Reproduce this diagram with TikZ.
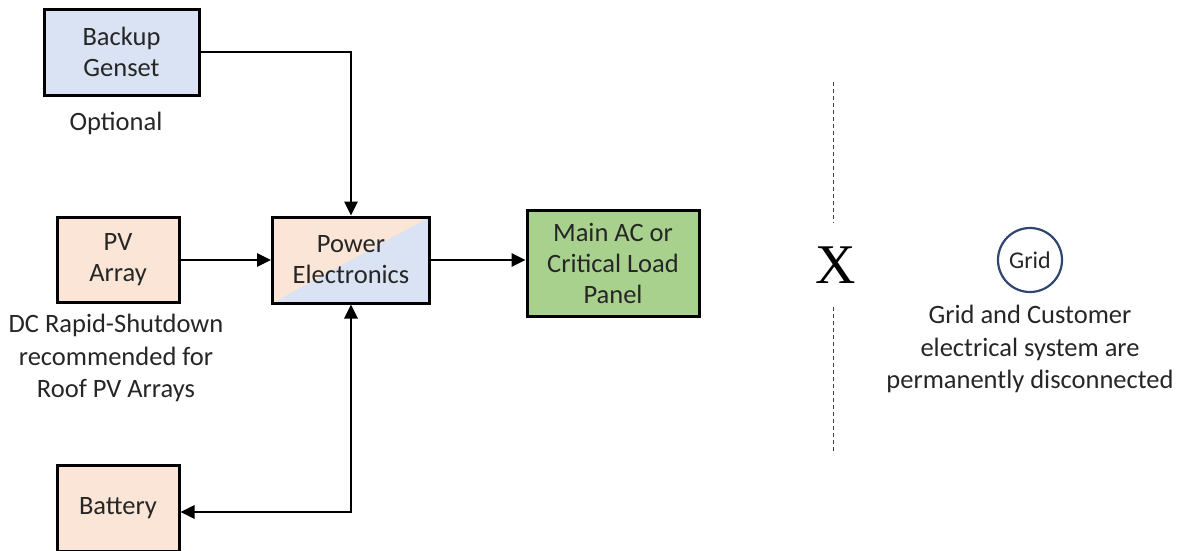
\documentclass[tikz,border=0pt]{standalone}
\usepackage{fontspec}
\setmainfont{Carlito}
\newfontfamily\serifx{Liberation Serif}
\usetikzlibrary{arrows.meta,calc}
\definecolor{lorange}{HTML}{FBE5D6}
\definecolor{lblue}{HTML}{DAE3F3}
\definecolor{lgreen}{HTML}{A9D18E}
\definecolor{navy}{HTML}{2F4670}
\definecolor{txt}{HTML}{262626}
\begin{document}
\begin{tikzpicture}[x=1pt,y=-1pt,
  box/.style={draw=black,line width=3pt,align=center,text=txt,
    font=\fontsize{26.5}{31}\selectfont,inner sep=0pt},
  lbl/.style={align=center,text=txt,font=\fontsize{26.5}{32.5}\selectfont,inner sep=0pt},
  conn/.style={line width=2.8pt,-{Triangle[length=14pt,width=13pt]}},
  dconn/.style={line width=2.8pt,{Triangle[length=14pt,width=13pt]}-{Triangle[length=14pt,width=13pt]}},
  sep/.style={draw=black!75,line width=1pt,dash pattern=on 4pt off 3pt}]
\useasboundingbox (0,0) rectangle (1179,550);
\node[box,fill=lblue,minimum width=155pt,minimum height=86pt] (gen) at (121.5,52) {Backup\\Genset};
\node[lbl] (opt) at (116,123) {Optional};
\node[box,fill=lorange,minimum width=122pt,minimum height=85pt] (pv) at (118,260) {PV\\Array};
\node[lbl] (dc) at (116,358) {DC Rapid-Shutdown\\recommended for\\Roof PV Arrays};
\node[box,fill=lorange,minimum width=122pt,minimum height=86pt] (bat) at (118,508) {Battery};
\node[box,minimum width=157pt,minimum height=86pt,
  path picture={
    \fill[lblue] (path picture bounding box.south west) rectangle (path picture bounding box.north east);
    \fill[lorange] (path picture bounding box.south west) -- (path picture bounding box.north west) -- (path picture bounding box.north east) -- cycle;
  }] (pe) at (351,260) {Power\\Electronics};
\node[box,fill=lgreen,minimum width=172pt,minimum height=106pt] (main) at (613,263) {Main AC or\\Critical Load\\Panel};
\node[inner sep=0pt,font=\serifx\fontsize{56}{56}\selectfont] (x) at (836,265) {X};
\coordinate (s1) at (833,82);
\coordinate (s2) at (833,223);
\coordinate (s3) at (833,307);
\coordinate (s4) at (833,452);
\draw[sep] (s1) -- (s2);
\draw[sep] (s3) -- (s4);
\node[circle,draw=navy,line width=2.2pt,minimum size=64pt,inner sep=0pt,text=txt,
  font=\fontsize{24}{24}\selectfont] (grid) at (1030,260) {Grid};
\node[lbl] (gtxt) at (1030,349) {Grid and Customer\\electrical system are\\permanently disconnected};
\draw[conn] (gen.east) -| (pe.north);
\draw[conn] (pv.east) -- (pe.west);
\draw[conn] (pe.east) -- (main.west |- pe.east);
\draw[dconn] (bat.east |- 0,512) -| (pe.south);
\end{tikzpicture}
\end{document}
